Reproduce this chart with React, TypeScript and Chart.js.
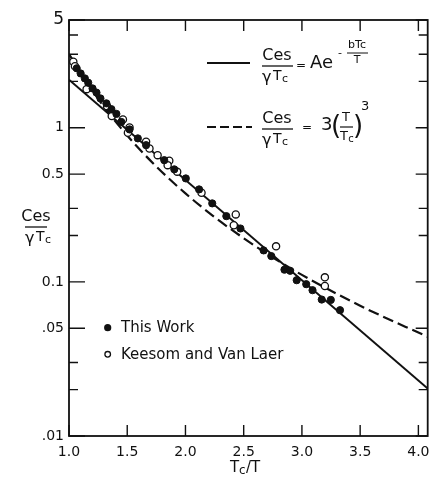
import React, { useEffect, useRef } from "react";
import { Chart, registerables } from "chart.js";

Chart.register(...registerables);

const FONT = '"DejaVu Sans", "Liberation Sans", sans-serif';

// Tick positions / labels
const X_TICKS = [1.0, 1.5, 2.0, 2.5, 3.0, 3.5, 4.0];
const Y_TICKS = [0.01, 0.02, 0.03, 0.05, 0.1, 0.2, 0.3, 0.5, 1, 2, 3, 4, 5];
const Y_LABELED = [5, 1, 0.5, 0.1, 0.05, 0.01];
const Y_LABEL_TEXT = ["5", "1", "0.5", "0.1", ".05", ".01"];

// "This Work" (filled circles)
const WORK_X = [1.066, 1.1, 1.136, 1.165, 1.202, 1.236, 1.27, 1.321, 1.364, 1.407, 1.449, 1.52, 1.591, 1.662, 1.818, 1.904, 2.003, 2.117, 2.23, 2.351, 2.472, 2.671, 2.737, 2.85, 2.899, 2.955, 3.037, 3.091, 3.17, 3.248, 3.327];
const WORK_Y = [2.43, 2.25, 2.09, 1.96, 1.8, 1.69, 1.55, 1.44, 1.32, 1.23, 1.09, 0.975, 0.853, 0.771, 0.616, 0.537, 0.469, 0.398, 0.323, 0.267, 0.222, 0.16, 0.147, 0.12, 0.118, 0.1025, 0.0966, 0.0883, 0.0768, 0.0764, 0.0655];

// "Keesom and Van Laer" (open circles)
const KEESOM_X = [1.037, 1.051, 1.151, 1.327, 1.367, 1.463, 1.52, 1.506, 1.662, 1.691, 1.761, 1.861, 1.847, 1.929, 2.138, 2.432, 2.415, 2.778, 3.197, 3.197];
const KEESOM_Y = [2.68, 2.51, 1.78, 1.38, 1.19, 1.13, 1.005, 0.927, 0.811, 0.734, 0.664, 0.61, 0.572, 0.519, 0.379, 0.274, 0.233, 0.17, 0.107, 0.094];

// Solid curve Ae^(-bTc/T) (straight on log axis)
const EXP_X = [1.0, 4.08];
const EXP_Y = [2.05, 0.0203];

// Dashed curve 3(T/Tc)^3
const CUBE_X = [1.0, 1.25, 1.5, 1.75, 2.0, 2.25, 2.5, 2.75, 3.0, 3.5, 4.08];
const CUBE_Y = [3.0, 1.54, 0.89, 0.56, 0.375, 0.263, 0.192, 0.144, 0.111, 0.07, 0.044];

const zip = (xs: number[], ys: number[]) => xs.map((x, i) => ({ x, y: ys[i] }));

function txt(ctx: CanvasRenderingContext2D, s: string, x: number, y: number, size: number, align: CanvasTextAlign = "left") {
  ctx.font = `${size}px ${FONT}`;
  ctx.textAlign = align;
  ctx.textBaseline = "middle";
  ctx.fillText(s, x, y);
}
function hline(ctx: CanvasRenderingContext2D, x1: number, x2: number, y: number, w: number) {
  ctx.lineWidth = w;
  ctx.beginPath();
  ctx.moveTo(x1, y);
  ctx.lineTo(x2, y);
  ctx.stroke();
}
function gammaTc(ctx: CanvasRenderingContext2D, x: number, y: number) {
  txt(ctx, "γ", x, y + 1, 16);
  txt(ctx, "T", x + 11, y - 1, 14);
  txt(ctx, "c", x + 20, y + 2, 11);
}

const framePlugin = {
  id: "frameAndText",
  afterDraw(chart: any) {
    const { ctx, chartArea: a, scales } = chart;
    const xs = scales.x;
    const ys = scales.y;
    ctx.save();
    ctx.strokeStyle = "#111";
    ctx.fillStyle = "#111";
    ctx.setLineDash([]);
    ctx.lineWidth = 1.8;
    ctx.strokeRect(a.left, a.top, a.right - a.left, a.bottom - a.top);
    ctx.lineWidth = 1.4;
    // y ticks
    for (const v of Y_TICKS) {
      const py = ys.getPixelForValue(v);
      const major = Y_LABELED.includes(v);
      ctx.beginPath();
      ctx.moveTo(a.left, py);
      ctx.lineTo(a.left + (major ? 16 : 9), py);
      ctx.moveTo(a.right, py);
      ctx.lineTo(a.right - (major ? 12 : 9), py);
      ctx.stroke();
    }
    // x ticks
    for (const v of X_TICKS) {
      const px = xs.getPixelForValue(v);
      ctx.beginPath();
      ctx.moveTo(px, a.bottom);
      ctx.lineTo(px, a.bottom - 11);
      ctx.moveTo(px, a.top);
      ctx.lineTo(px, a.top + 11);
      ctx.stroke();
    }

    // Legend for points
    ctx.beginPath();
    ctx.arc(107.7, 327.7, 3.6, 0, Math.PI * 2);
    ctx.fill();
    txt(ctx, "This Work", 121, 328, 15);
    ctx.beginPath();
    ctx.arc(107.7, 354.3, 2.8, 0, Math.PI * 2);
    ctx.lineWidth = 1.3;
    ctx.fillStyle = "#fff";
    ctx.fill();
    ctx.stroke();
    ctx.fillStyle = "#111";
    txt(ctx, "Keesom and Van Laer", 121, 355, 15);

    // Formula 1 (solid)
    hline(ctx, 207, 250, 63, 2);
    txt(ctx, "Ces", 277, 56, 16, "center");
    hline(ctx, 262, 293, 66, 1.3);
    gammaTc(ctx, 262, 77);
    txt(ctx, "=", 301, 66, 12, "center");
    txt(ctx, "Ae", 310, 63, 18);
    txt(ctx, "-", 338, 53, 11);
    txt(ctx, "bTc", 357, 45, 11, "center");
    hline(ctx, 347, 368, 53, 1);
    txt(ctx, "T", 357, 60, 11, "center");

    // Formula 2 (dashed)
    ctx.setLineDash([9, 4]);
    hline(ctx, 207, 252, 127, 2);
    ctx.setLineDash([]);
    txt(ctx, "Ces", 277, 119, 16, "center");
    hline(ctx, 262, 293, 129, 1.3);
    gammaTc(ctx, 262, 140);
    txt(ctx, "=", 307, 128, 12, "center");
    txt(ctx, "3", 321, 125, 18);
    txt(ctx, "(", 331, 127, 26);
    txt(ctx, "T", 346, 118, 13, "center");
    hline(ctx, 340, 353, 127, 1.2);
    txt(ctx, "T", 344, 137, 13, "center");
    txt(ctx, "c", 351, 139, 10, "center");
    txt(ctx, ")", 353, 127, 26);
    txt(ctx, "3", 361, 107, 13);

    // Y axis title
    txt(ctx, "Ces", 36, 217, 16, "center");
    hline(ctx, 25, 47, 227, 1.3);
    gammaTc(ctx, 25, 238);

    // X axis title
    txt(ctx, "T", 230, 468, 15);
    txt(ctx, "c", 239, 471, 12);
    txt(ctx, "/T", 246, 468, 15);
    ctx.restore();
  },
};

export default function App() {
  const ref = useRef<HTMLCanvasElement | null>(null);
  useEffect(() => {
    document.body.style.margin = "0";
    const canvas = ref.current!;
    const chart = new Chart(canvas, {
      type: "scatter",
      data: {
        datasets: [
          {
            label: "This Work",
            data: zip(WORK_X, WORK_Y),
            showLine: false,
            pointRadius: 3.6,
            pointBackgroundColor: "#111",
            pointBorderColor: "#111",
            pointBorderWidth: 1,
            order: 0,
          },
          {
            label: "Keesom and Van Laer",
            data: zip(KEESOM_X, KEESOM_Y),
            showLine: false,
            pointRadius: 3.6,
            pointBackgroundColor: "#fff",
            pointBorderColor: "#111",
            pointBorderWidth: 1.3,
            order: 0,
          },
          {
            label: "Ae^-bTc/T",
            data: zip(EXP_X, EXP_Y),
            showLine: true,
            pointRadius: 0,
            borderColor: "#111",
            borderWidth: 2,
            order: 2,
          },
          {
            label: "3(T/Tc)^3",
            data: zip(CUBE_X, CUBE_Y),
            showLine: true,
            pointRadius: 0,
            borderColor: "#111",
            borderWidth: 2.2,
            borderDash: [11, 5],
            cubicInterpolationMode: "monotone",
            order: 2,
          },
        ],
      } as any,
      options: {
        animation: false,
        responsive: false,
        devicePixelRatio: 1,
        layout: { padding: { top: 20, right: 2, left: 0, bottom: 0 } },
        plugins: { legend: { display: false }, tooltip: { enabled: false } },
        scales: {
          x: {
            type: "linear",
            min: 1.0,
            max: 4.08,
            afterBuildTicks: (s: any) => {
              s.ticks = X_TICKS.map((v) => ({ value: v }));
            },
            afterFit: (s: any) => {
              s.height = 45;
              s.paddingLeft = 0;
              s.paddingRight = 0;
            },
            ticks: {
              callback: (v: any) => Number(v).toFixed(1),
              font: { family: FONT, size: 14 },
              color: "#111",
              padding: 8,
              maxRotation: 0,
              autoSkip: false,
            },
            grid: { display: false, drawTicks: false },
            border: { display: false },
          },
          y: {
            type: "logarithmic",
            min: 0.01,
            max: 5,
            afterBuildTicks: (s: any) => {
              s.ticks = Y_TICKS.map((v) => ({ value: v }));
            },
            afterFit: (s: any) => {
              s.width = 69;
              s.paddingTop = 0;
              s.paddingBottom = 0;
            },
            ticks: {
              callback: (v: any) => {
                const i = Y_LABELED.findIndex((t) => Math.abs(t - Number(v)) < 1e-9);
                return i >= 0 ? Y_LABEL_TEXT[i] : "";
              },
              font: (c: any) => ({ family: FONT, size: c.tick && c.tick.value === 5 ? 17 : 14 }),
              color: "#111",
              padding: 5,
              autoSkip: false,
            },
            grid: { display: false, drawTicks: false },
            border: { display: false },
          },
        },
      } as any,
      plugins: [framePlugin],
    });
    return () => chart.destroy();
  }, []);
  return <canvas ref={ref} width={433} height={481} style={{ display: "block" }} />;
}
